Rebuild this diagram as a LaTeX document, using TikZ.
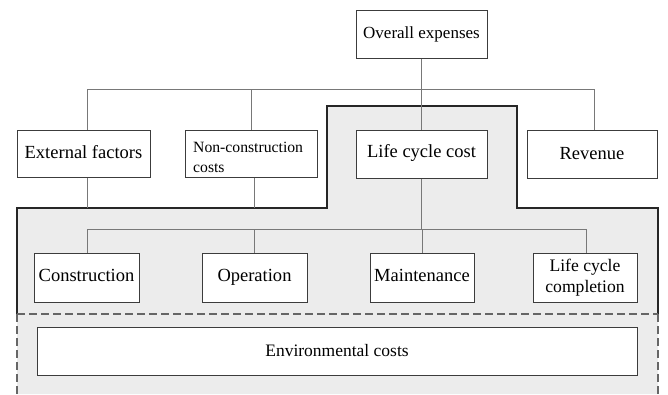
\documentclass[tikz,border=0pt]{standalone}
\usepackage{fontspec}
\setmainfont{Liberation Serif}
\newfontfamily\tnr{Liberation Serif}
\definecolor{regionfill}{RGB}{236,236,236}
\definecolor{boxline}{RGB}{60,60,60}
\definecolor{connline}{RGB}{120,120,120}
\begin{document}
\begin{tikzpicture}[x=1pt,y=-1pt,
  box/.style={draw=boxline, line width=1pt, fill=white, inner sep=0pt, align=center, minimum height=48pt},
  big/.style={font=\tnr\fontsize{18.5}{21}\selectfont},
  conn/.style={draw=connline, line width=0.9pt},
  thick outline/.style={draw=black!85, line width=1.8pt},
  dash outline/.style={draw=black!60, line width=1.2pt, dash pattern=on 8pt off 4pt}]
\useasboundingbox (0,0) rectangle (668,394);
% shaded region
\fill[regionfill] (17,394) -- (17,208) -- (327,208) -- (327,106) -- (517,106) -- (517,208) -- (658,208) -- (658,394) -- cycle;
\draw[thick outline] (17,314) -- (17,208) -- (327,208) -- (327,106) -- (517,106) -- (517,208) -- (658,208) -- (658,314);
\draw[dash outline] (17,314) -- (658,314);
\draw[dash outline] (17,314) -- (17,394);
\draw[dash outline] (658,314) -- (658,394);
% coordinates
\coordinate (busL) at (87,89);
\coordinate (busR) at (594,89);
\coordinate (extEnd) at (87,208);
\coordinate (ncEnd) at (254,208);
\coordinate (bus2L) at (87,229);
\coordinate (bus2R) at (586,229);
% nodes
\node[box, minimum width=131pt, font=\tnr\fontsize{17}{19}\selectfont] (ov) at (421.5,34) {\raisebox{2pt}{Overall expenses}};
\node[box, big, minimum width=133pt, minimum height=47pt] (ext) at (83.5,153.5) {\raisebox{3pt}{External factors}};
\node[box, minimum width=132pt, minimum height=47pt] (nc) at (251,153.5) {};
\node[font=\tnr\fontsize{15.7}{20}\selectfont, align=left, anchor=west, inner sep=0pt] (nctext) at (193,157) {Non-construction\\costs};
\node[box, big, minimum width=131pt] (lcc) at (421.5,154) {\raisebox{7pt}{Life cycle cost}};
\node[box, big, minimum width=130pt] (rev) at (592,154) {Revenue};
\node[box, big, minimum width=105pt, minimum height=49pt] (con) at (86.5,277.5) {\raisebox{4pt}{Construction}};
\node[box, big, minimum width=105pt, minimum height=49pt] (op) at (254.5,277.5) {\raisebox{2pt}{Operation}};
\node[box, big, minimum width=104pt, minimum height=49pt] (mai) at (422,277.5) {\raisebox{4pt}{Maintenance}};
\node[box, minimum width=104pt, minimum height=49pt, font=\tnr\fontsize{17.6}{21}\selectfont] (lcp) at (585,277.5) {Life cycle\\completion};
\node[box, minimum width=600pt, font=\tnr\fontsize{17.5}{20}\selectfont] (env) at (337,351) {Environmental costs};
% connectors
\draw[conn] (ov.south) -- (ov.south |- busL);
\draw[conn] (busL) -- (busR);
\draw[conn] (busL) -- (busL |- ext.north);
\draw[conn] (nc.north |- busL) -- (nc.north);
\draw[conn] (lcc.north |- busL) -- (lcc.north);
\draw[conn] (busR) -- (busR |- rev.north);
\draw[conn] (extEnd |- ext.south) -- (extEnd);
\draw[conn] (ncEnd |- nc.south) -- (ncEnd);
\draw[conn] (lcc.south) -- (lcc.south |- bus2L);
\draw[conn] (bus2L) -- (bus2R);
\draw[conn] (bus2L) -- (bus2L |- con.north);
\draw[conn] (op.north |- bus2L) -- (op.north);
\draw[conn] (mai.north |- bus2L) -- (mai.north);
\draw[conn] (bus2R) -- (bus2R |- lcp.north);
\end{tikzpicture}
\end{document}
